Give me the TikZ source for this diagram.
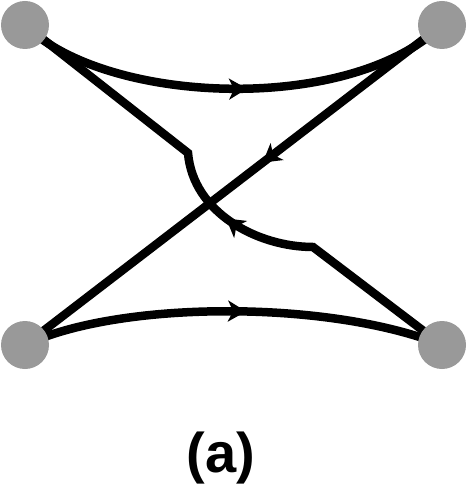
\documentclass[tikz,border=0pt]{standalone}
\usepackage{fontspec}
\setmainfont{Liberation Sans}
\usetikzlibrary{arrows.meta,decorations.markings}
\definecolor{vgray}{HTML}{999999}
\begin{document}
\begin{tikzpicture}[x=1pt,y=-1pt,
  vertex/.style={circle,fill=vgray,minimum size=48pt,inner sep=0pt},
  edge/.style={line width=8.5pt,line join=miter,black},
  midarrow/.style={postaction={decorate},decoration={markings,
    mark=at position #1 with {\arrow{Stealth[length=18pt,width=21pt,inset=5pt]}}}},
  lbl/.style={font=\fontsize{56}{60}\selectfont\bfseries}]
\useasboundingbox (0,0) rectangle (470,494);
\coordinate (tl) at (25,25);
\coordinate (tr) at (442,25);
\coordinate (bl) at (25,345);
\coordinate (br) at (442,345);
\coordinate (k1) at (313,247);
\coordinate (k2) at (188,153);
\draw[edge,midarrow=0.53] (tl) .. controls (105,105) and (350,115) .. (tr);
\draw[edge,midarrow=0.53] (bl) .. controls (120,300) and (330,300) .. (br);
\draw[edge,midarrow=0.43] (tr) -- (bl);
\draw[edge,midarrow=255pt] (br) -- (k1) .. controls (258,247) and (193,213) .. (k2) -- (tl);
\node[vertex] (a) at (tl) {};
\node[vertex] (b) at (tr) {};
\node[vertex] (c) at (bl) {};
\node[vertex] (d) at (br) {};
\node[lbl] (cap) at (221,458) {(a)};
\end{tikzpicture}
\end{document}
